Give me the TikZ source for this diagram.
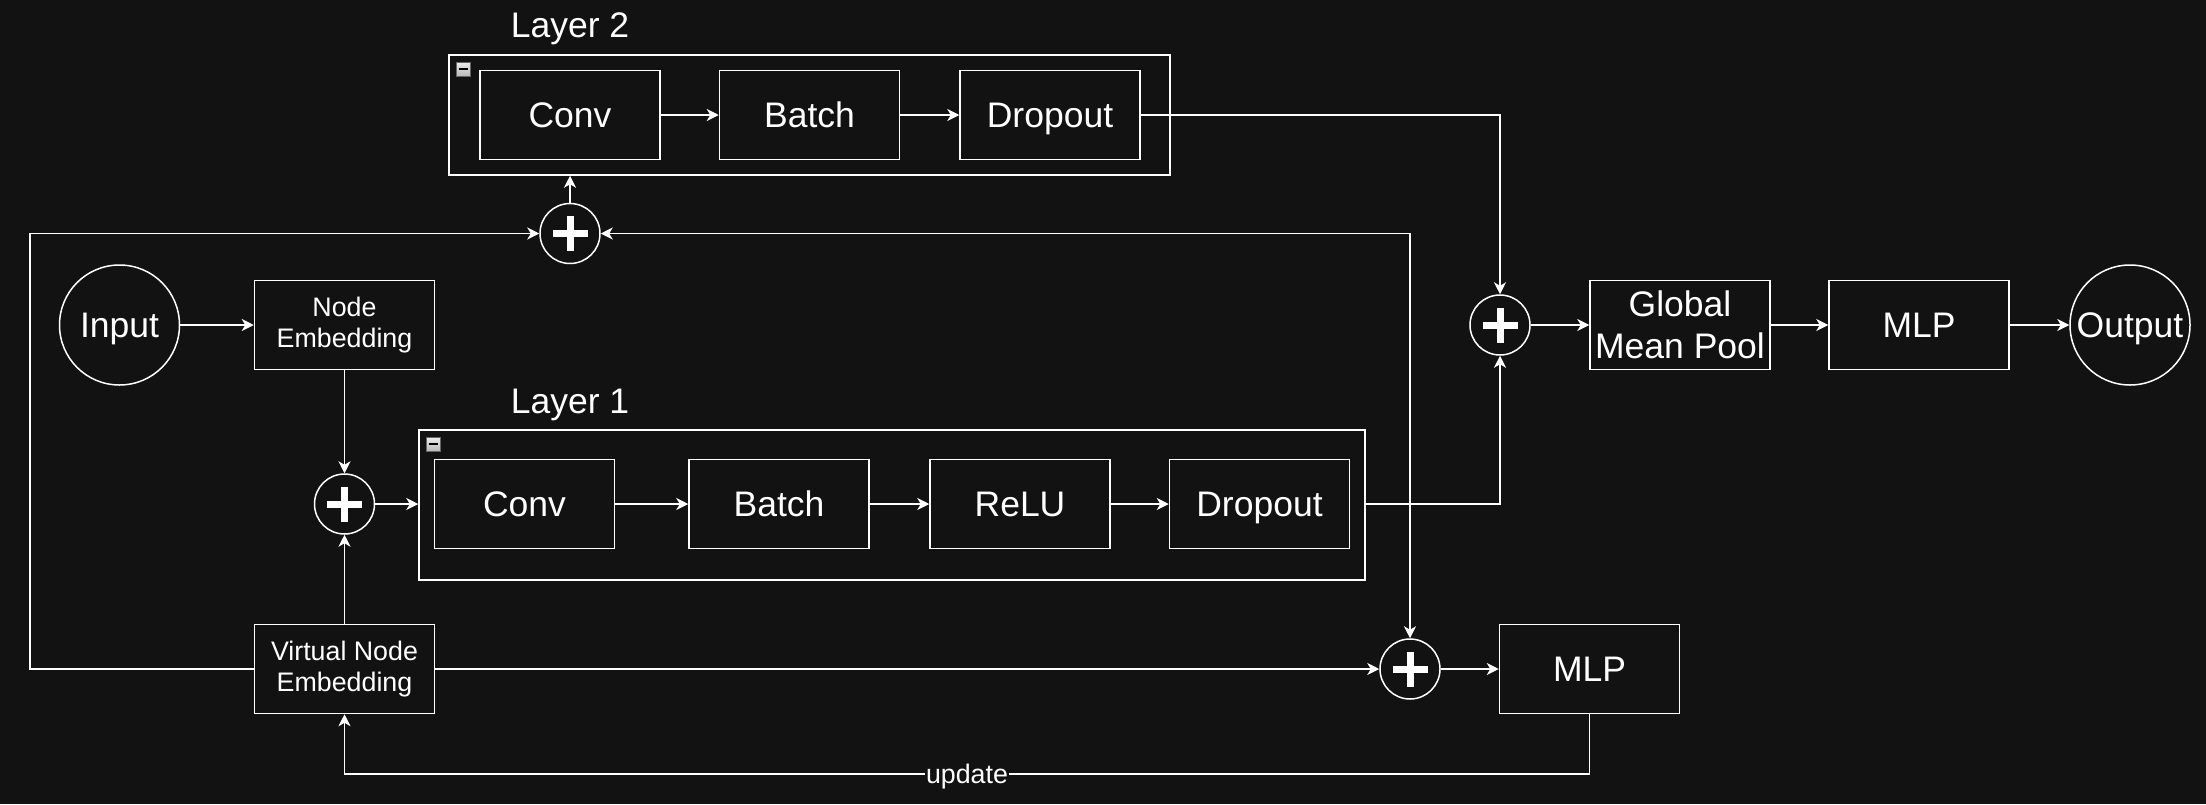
\documentclass[tikz,border=0pt]{standalone}
\usepackage{fontspec}
\setmainfont{Liberation Sans}
\usetikzlibrary{arrows.meta,calc}
\definecolor{bg}{HTML}{121212}
\newcommand{\bigf}{\fontsize{35.5}{42.6}\selectfont}
\newcommand{\smallf}{\fontsize{26.8}{31}\selectfont}
\tikzset{
  ln/.style={draw=white, line width=1.5pt},
  arr/.style={ln, -{Stealth[length=12pt,width=12pt,inset=3.5pt]}},
  bigtxt/.style={font=\bigf, text height=32pt, text depth=7.5pt},
  smalltxt/.style={font=\smallf, text height=24.2pt, text depth=5.7pt},
  blk/.style={ln, rectangle, minimum width=180pt, minimum height=89pt, inner sep=0pt, text=white, bigtxt},
  blks/.style={ln, rectangle, minimum width=180pt, minimum height=89pt, inner sep=0pt, text=white, font=\smallf, align=center},
  blkm/.style={ln, rectangle, minimum width=180pt, minimum height=89pt, inner sep=0pt, text=white, font=\bigf, align=center},
  group/.style={ln, rectangle, inner sep=0pt},
  bigcirc/.style={ln, circle, minimum size=120pt, inner sep=0pt, text=white, bigtxt},
  plus/.style={ln, circle, minimum size=60pt, inner sep=0pt,
    path picture={
      \draw[white, line width=7pt] ([xshift=-17.5pt]path picture bounding box.center) -- ([xshift=17.5pt]path picture bounding box.center);
      \draw[white, line width=7pt] ([yshift=-17.5pt]path picture bounding box.center) -- ([yshift=17.5pt]path picture bounding box.center);
    }},
  lbl/.style={text=white, inner sep=0pt, bigtxt},
  upd/.style={fill=bg, text=white, inner sep=1pt, smalltxt},
  icon/.style={draw=gray!80!black, line width=0.8pt, top color=gray!15, bottom color=gray!55, minimum size=14pt, inner sep=0pt,
    path picture={\draw[black, line width=2.2pt] ([xshift=-4.5pt]path picture bounding box.center) -- ([xshift=4.5pt]path picture bounding box.center);}}
}
\begin{document}
\begin{tikzpicture}[x=1pt,y=-1pt]
\fill[bg] (0,0) rectangle (2206,804);
\useasboundingbox (0,0) rectangle (2206,804);

% containers
\node[group, minimum width=946pt, minimum height=150pt] (L1) at (892,505) {};
\node[group, minimum width=721pt, minimum height=120pt] (L2) at (809.5,115) {};
\node[lbl] (L1lbl) at (570,401) {Layer 1};
\node[lbl] (L2lbl) at (570,25) {Layer 2};
\node[icon] (ic1) at (433,444) {};
\node[icon] (ic2) at (463,69) {};

% nodes
\node[bigcirc] (in) at (119.5,325) {Input};
\node[blks] (ne) at (344.5,325) {Node\\Embedding};
\node[plus] (p1) at (344.5,504) {};
\node[blks] (vn) at (344.5,669) {Virtual Node\\Embedding};

\node[blk] (c1) at (524.5,504) {Conv};
\node[blk] (b1) at (779,504) {Batch};
\node[blk] (r1) at (1020,504) {ReLU};
\node[blk] (d1) at (1259.5,504) {Dropout};

\node[blk] (c2) at (570,115) {Conv};
\node[blk] (b2) at (809.5,115) {Batch};
\node[blk] (d2) at (1050,115) {Dropout};

\node[plus] (p2) at (570,233.5) {};
\node[plus] (p3) at (1410,669) {};
\node[blk] (mlp2) at (1589.5,669) {MLP};
\node[plus] (p4) at (1500,325) {};
\node[blkm] (gmp) at (1680,325) {Global\\Mean Pool};
\node[blk] (mlp1) at (1919,325) {MLP};
\node[bigcirc] (out) at (2130,325) {Output};

\coordinate (lx) at (30,0);
\coordinate (uy) at (0,774);
\coordinate (j) at (1410,504);

% edges
\draw[arr] (in) -- (ne);
\draw[arr] (ne) -- (p1);
\draw[arr] (vn) -- (p1);
\draw[arr] (p1) -- (p1 -| L1.west);
\draw[arr] (c1) -- (b1);
\draw[arr] (b1) -- (r1);
\draw[arr] (r1) -- (d1);
\draw[arr] (L1.east |- d1) -| (p4);
\draw[arr] (c2) -- (b2);
\draw[arr] (b2) -- (d2);
\draw[arr] (d2) -| (p4);
\draw[arr] (j) |- (p2);
\draw[arr] (j) -- (p3);
\draw[arr] (vn.west) -- (vn.west -| lx) |- (p2);
\draw[arr] (p2) -- (p2 |- L2.south);
\draw[arr] (vn) -- (p3);
\draw[arr] (p3) -- (mlp2);
\draw[arr] (mlp2.south) -- (mlp2.south |- uy) -- node[upd] {update} (vn.south |- uy) -- (vn.south);
\draw[arr] (p4) -- (gmp);
\draw[arr] (gmp) -- (mlp1);
\draw[arr] (mlp1) -- (out);
\end{tikzpicture}
\end{document}
